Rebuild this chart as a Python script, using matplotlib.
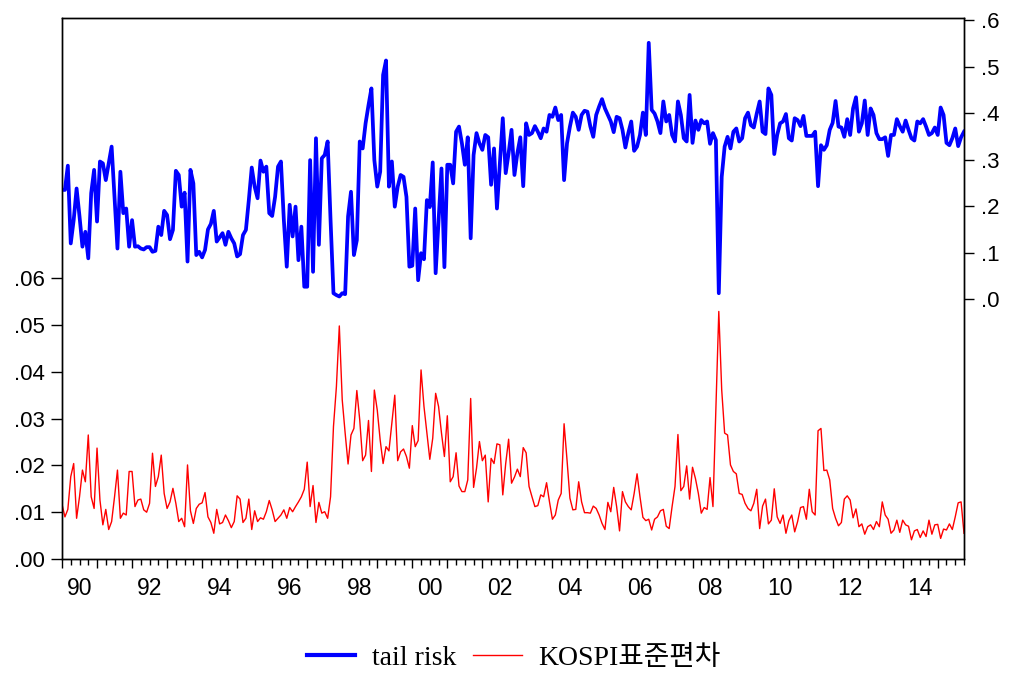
import numpy as np
import matplotlib
matplotlib.use("Agg")
import matplotlib.pyplot as plt
from matplotlib.lines import Line2D

start_year = 1990

tail_risk = [
    0.235, 0.235, 0.287, 0.120, 0.170, 0.238, 0.178, 0.113, 0.145, 0.088, 0.228, 0.278,
    0.167, 0.296, 0.292, 0.256, 0.292, 0.328, 0.220, 0.109, 0.274, 0.185, 0.195, 0.113,
    0.170, 0.113, 0.114, 0.109, 0.107, 0.112, 0.112, 0.102, 0.104, 0.156, 0.138, 0.190,
    0.181, 0.129, 0.149, 0.276, 0.267, 0.199, 0.229, 0.081, 0.278, 0.249, 0.095, 0.102,
    0.090, 0.106, 0.150, 0.162, 0.190, 0.124, 0.133, 0.142, 0.117, 0.145, 0.131, 0.120,
    0.092, 0.097, 0.138, 0.149, 0.213, 0.283, 0.242, 0.217, 0.298, 0.274, 0.285, 0.185,
    0.179, 0.220, 0.285, 0.296, 0.170, 0.070, 0.203, 0.135, 0.199, 0.084, 0.156, 0.027,
    0.027, 0.299, 0.059, 0.346, 0.117, 0.303, 0.310, 0.339, 0.170, 0.013, 0.009, 0.006,
    0.013, 0.011, 0.178, 0.231, 0.095, 0.127, 0.339, 0.324, 0.378, 0.417, 0.453, 0.299,
    0.242, 0.274, 0.482, 0.513, 0.242, 0.296, 0.199, 0.242, 0.267, 0.263, 0.220, 0.070,
    0.072, 0.195, 0.041, 0.099, 0.086, 0.213, 0.198, 0.294, 0.056, 0.170, 0.281, 0.069,
    0.289, 0.289, 0.249, 0.360, 0.371, 0.335, 0.289, 0.348, 0.131, 0.310, 0.357, 0.335,
    0.321, 0.353, 0.348, 0.246, 0.324, 0.195, 0.292, 0.389, 0.271, 0.314, 0.364, 0.267,
    0.314, 0.348, 0.243, 0.378, 0.353, 0.357, 0.372, 0.360, 0.346, 0.367, 0.360, 0.396,
    0.392, 0.412, 0.385, 0.396, 0.256, 0.335, 0.371, 0.401, 0.392, 0.364, 0.396, 0.405,
    0.403, 0.371, 0.349, 0.396, 0.414, 0.430, 0.410, 0.396, 0.382, 0.359, 0.392, 0.389,
    0.364, 0.326, 0.357, 0.382, 0.319, 0.328, 0.353, 0.401, 0.353, 0.551, 0.407, 0.399,
    0.382, 0.357, 0.425, 0.382, 0.396, 0.353, 0.339, 0.425, 0.396, 0.346, 0.339, 0.439,
    0.336, 0.384, 0.364, 0.385, 0.378, 0.382, 0.334, 0.357, 0.342, 0.013, 0.263, 0.328,
    0.349, 0.324, 0.360, 0.367, 0.339, 0.346, 0.389, 0.401, 0.374, 0.369, 0.399, 0.425,
    0.360, 0.355, 0.453, 0.439, 0.312, 0.353, 0.378, 0.382, 0.398, 0.346, 0.341, 0.389,
    0.385, 0.372, 0.394, 0.351, 0.351, 0.351, 0.360, 0.243, 0.331, 0.321, 0.331, 0.364,
    0.379, 0.426, 0.371, 0.369, 0.349, 0.387, 0.353, 0.410, 0.434, 0.360, 0.378, 0.427,
    0.353, 0.410, 0.396, 0.357, 0.344, 0.344, 0.348, 0.308, 0.353, 0.353, 0.387, 0.372,
    0.360, 0.384, 0.364, 0.346, 0.341, 0.382, 0.378, 0.387, 0.371, 0.353, 0.357, 0.369,
    0.353, 0.412, 0.396, 0.336, 0.331, 0.346, 0.367, 0.329, 0.348, 0.360,
]

kospi_sd = [
    0.0117, 0.0090, 0.0106, 0.0176, 0.0204, 0.0087, 0.0133, 0.0190, 0.0165, 0.0265, 0.0133, 0.0108,
    0.0237, 0.0126, 0.0073, 0.0106, 0.0063, 0.0080, 0.0133, 0.0190, 0.0087, 0.0098, 0.0094, 0.0187,
    0.0187, 0.0112, 0.0126, 0.0128, 0.0105, 0.0100, 0.0119, 0.0226, 0.0155, 0.0176, 0.0222, 0.0140,
    0.0108, 0.0122, 0.0151, 0.0119, 0.0080, 0.0087, 0.0069, 0.0201, 0.0103, 0.0076, 0.0108, 0.0117,
    0.0120, 0.0142, 0.0090, 0.0078, 0.0055, 0.0106, 0.0075, 0.0078, 0.0094, 0.0082, 0.0067, 0.0080,
    0.0135, 0.0128, 0.0078, 0.0087, 0.0128, 0.0063, 0.0103, 0.0080, 0.0088, 0.0085, 0.0101, 0.0125,
    0.0105, 0.0080, 0.0087, 0.0094, 0.0105, 0.0087, 0.0110, 0.0101, 0.0112, 0.0122, 0.0133, 0.0149,
    0.0207, 0.0112, 0.0157, 0.0078, 0.0121, 0.0098, 0.0101, 0.0087, 0.0133, 0.0283, 0.0368, 0.0498,
    0.0340, 0.0269, 0.0203, 0.0265, 0.0279, 0.0360, 0.0297, 0.0210, 0.0222, 0.0296, 0.0187, 0.0361,
    0.0318, 0.0254, 0.0204, 0.0240, 0.0231, 0.0290, 0.0350, 0.0210, 0.0229, 0.0235, 0.0219, 0.0194,
    0.0285, 0.0240, 0.0253, 0.0404, 0.0326, 0.0269, 0.0213, 0.0258, 0.0354, 0.0326, 0.0269, 0.0219,
    0.0306, 0.0165, 0.0176, 0.0227, 0.0156, 0.0144, 0.0144, 0.0169, 0.0343, 0.0153, 0.0194, 0.0251,
    0.0210, 0.0222, 0.0122, 0.0215, 0.0204, 0.0246, 0.0244, 0.0137, 0.0204, 0.0256, 0.0162, 0.0175,
    0.0192, 0.0176, 0.0238, 0.0227, 0.0155, 0.0133, 0.0112, 0.0114, 0.0137, 0.0133, 0.0163, 0.0122,
    0.0085, 0.0094, 0.0126, 0.0140, 0.0289, 0.0212, 0.0130, 0.0105, 0.0106, 0.0165, 0.0122, 0.0099,
    0.0099, 0.0098, 0.0113, 0.0108, 0.0094, 0.0076, 0.0063, 0.0121, 0.0101, 0.0153, 0.0112, 0.0060,
    0.0144, 0.0122, 0.0112, 0.0105, 0.0140, 0.0182, 0.0133, 0.0089, 0.0082, 0.0085, 0.0062, 0.0085,
    0.0090, 0.0103, 0.0106, 0.0070, 0.0065, 0.0112, 0.0155, 0.0266, 0.0146, 0.0155, 0.0199, 0.0128,
    0.0196, 0.0172, 0.0140, 0.0098, 0.0110, 0.0106, 0.0174, 0.0112, 0.0318, 0.0529, 0.0361, 0.0269,
    0.0265, 0.0201, 0.0187, 0.0182, 0.0140, 0.0138, 0.0119, 0.0108, 0.0103, 0.0119, 0.0149, 0.0065,
    0.0113, 0.0128, 0.0075, 0.0083, 0.0150, 0.0090, 0.0076, 0.0094, 0.0055, 0.0082, 0.0094, 0.0058,
    0.0080, 0.0110, 0.0112, 0.0085, 0.0149, 0.0101, 0.0094, 0.0274, 0.0279, 0.0189, 0.0190, 0.0169,
    0.0108, 0.0087, 0.0071, 0.0078, 0.0128, 0.0135, 0.0126, 0.0088, 0.0107, 0.0069, 0.0075, 0.0053,
    0.0069, 0.0073, 0.0063, 0.0080, 0.0069, 0.0122, 0.0094, 0.0085, 0.0055, 0.0062, 0.0083, 0.0057,
    0.0083, 0.0073, 0.0070, 0.0041, 0.0060, 0.0063, 0.0046, 0.0060, 0.0048, 0.0083, 0.0053, 0.0073,
    0.0074, 0.0044, 0.0064, 0.0062, 0.0075, 0.0063, 0.0090, 0.0120, 0.0122, 0.0055,
]

x_label_years = list(range(1990, 2015, 2))
x_labels = ["90", "92", "94", "96", "98", "00", "02", "04", "06", "08", "10", "12", "14"]
left_ticks = [0.00, 0.01, 0.02, 0.03, 0.04, 0.05, 0.06]
left_labels = [".00", ".01", ".02", ".03", ".04", ".05", ".06"]
right_ticks = [0.0, 0.1, 0.2, 0.3, 0.4, 0.5, 0.6]
right_labels = [".0", ".1", ".2", ".3", ".4", ".5", ".6"]
series_names = ["tail risk", "KOSPI표준편차"]

n = len(tail_risk)
t = start_year + np.arange(n) / 12.0

W, H = 1011, 676
fig = plt.figure(figsize=(W / 100, H / 100), dpi=100)
L, R, T, B = 62, 964, 18, 559
ax = fig.add_axes([L / W, 1 - B / H, (R - L) / W, (B - T) / H])
ax2 = ax.twinx()

ytick_font = dict(family=["Liberation Sans", "DejaVu Sans"], size=16)
xtick_font = dict(family=["Liberation Sans", "DejaVu Sans"], size=16.5)

ax.plot(t, kospi_sd, color="#ff0000", lw=1.0)
ax2.plot(t, tail_risk, color="#0000ff", lw=2.7, solid_joinstyle="round")

ax.set_xlim(t[0], t[-1])
ax.set_ylim(0, 0.1156)
ax2.set_ylim(-0.558, 0.6043)

# x ticks: year boundaries (major), quarters (minor)
years = np.arange(start_year, int(t[-1]) + 1)
ax.set_xticks(years)
ax.set_xticklabels([])
quarters = [y + q / 4 for y in years for q in (1, 2, 3) if y + q / 4 <= t[-1]]
ax.set_xticks(quarters, minor=True)
ax.tick_params(axis="x", which="major", direction="out", length=6.5, width=1.0, color="black")
ax.tick_params(axis="x", which="minor", direction="out", length=4, width=1.0, color="black")
for yr, lab in zip(x_label_years, x_labels):
    ax.text(yr + 0.5, -0.054, lab, transform=ax.get_xaxis_transform(),
            ha="center", va="center", fontdict=xtick_font)

ax.set_yticks(left_ticks)
ax.set_yticklabels(left_labels, fontdict=ytick_font)
ax.tick_params(axis="y", direction="out", length=8, width=1.0, pad=4)

ax2.set_yticks(right_ticks)
ax2.set_yticklabels(right_labels, fontdict=ytick_font)
ax2.tick_params(axis="y", direction="out", length=7.5, width=1.0, pad=5)

for a in (ax, ax2):
    for s in a.spines.values():
        s.set_linewidth(1.0)
        s.set_color("black")

handles = [Line2D([], [], color="#0000ff", lw=3.0),
           Line2D([], [], color="#ff0000", lw=1.0)]
fig.legend(handles, series_names, loc="center", bbox_to_anchor=(0.508, 1 - 658 / H),
           ncol=2, frameon=False, handlelength=1.75, handletextpad=0.6, columnspacing=0.6,
           prop=dict(family=["Liberation Serif", "Noto Sans CJK KR"], size=20))

fig.savefig("out.png", dpi=100)
